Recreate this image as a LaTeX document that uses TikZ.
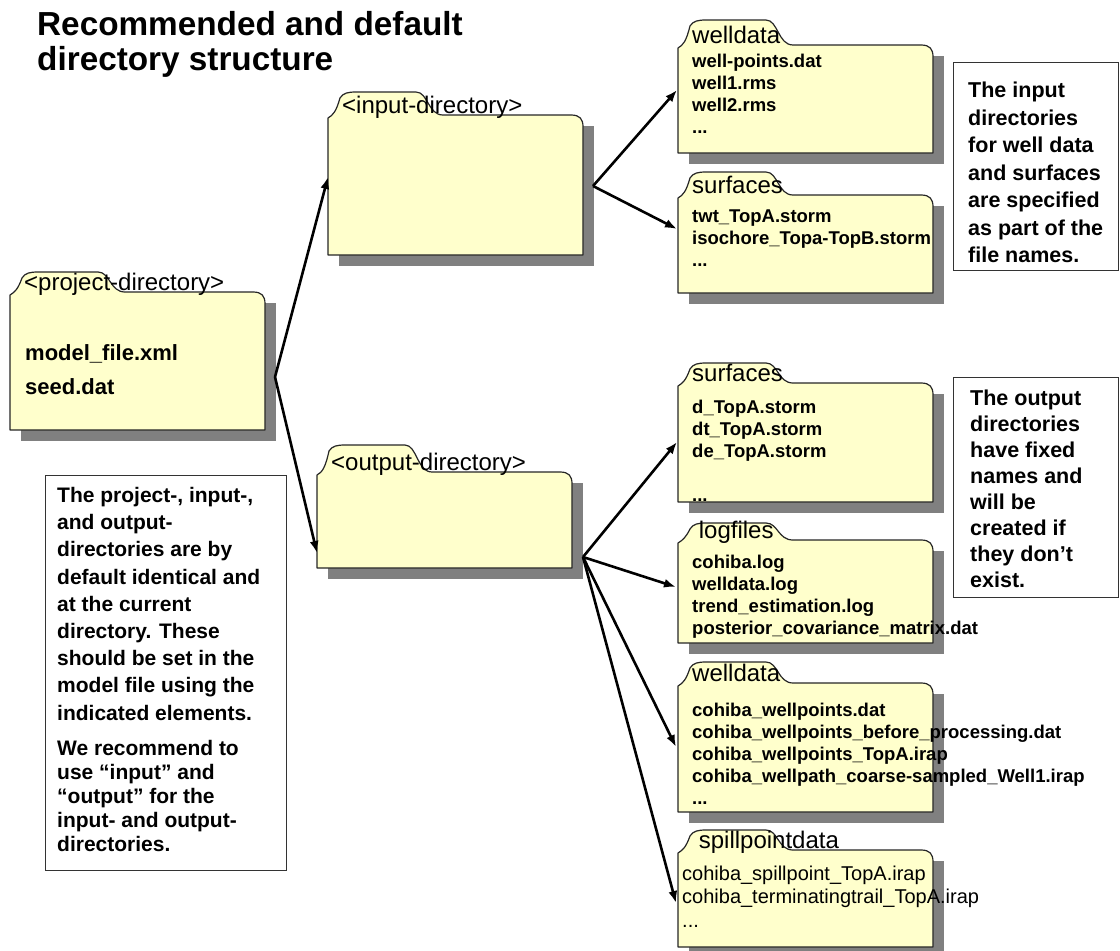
\documentclass[tikz,border=0pt]{standalone}
\usepackage{fontspec}
\setmainfont{Liberation Sans}
\usetikzlibrary{arrows.meta,positioning}

\definecolor{folderfill}{RGB}{255,255,204}
\definecolor{foldershade}{RGB}{128,128,128}

\tikzset{
  folderbody/.style={draw=black!85,line width=1.2pt,fill=folderfill,line join=round},
  foldershadow/.style={fill=foldershade},
  folderlabel/.style={font=\fontsize{24}{28}\selectfont,inner sep=0pt,anchor=base west},
  files/.style={font=\bfseries\fontsize{18.5}{22}\selectfont,align=left,inner sep=0pt,anchor=north west},
  notebox/.style={draw=black!80,line width=1pt,fill=white,inner sep=0pt,anchor=north west},
  notetext/.style={align=left,inner sep=0pt,anchor=north west},
  arr/.style={line width=2.6pt,-{Latex[length=12pt,width=9pt]}},
}

% folder: name, left x, tab top, body top, bottom, label
\newcommand{\folder}[6]{%
  \fill[foldershadow] (#2+11,#4+11) rectangle (#2+266,#5+11);
  \draw[folderbody] (#2,#5) -- (#2,#4+3)
    .. controls (#2+5,#4) and (#2+8,#4-3) .. (#2+12,#3+6)
    .. controls (#2+15,#3+1) and (#2+20,#3) .. (#2+28,#3)
    -- (#2+88,#3)
    .. controls (#2+100,#3) and (#2+100,#4) .. (#2+115,#4)
    -- (#2+243,#4)
    .. controls (#2+252,#4) and (#2+255,#4+4) .. (#2+255,#4+12)
    -- (#2+255,#5) -- cycle;
  \node[folderlabel] (#1-label) at (#2+14,#4-2) {#6};
}

\begin{document}
\begin{tikzpicture}[x=1pt,y=-1pt]
  \useasboundingbox (0,0) rectangle (1120,951);

  \node[notetext,font=\bfseries\fontsize{33.3}{34}\selectfont] (title) at (37,11)
    {\strut Recommended and default\\directory structure};

  % folders
  \folder{project}{10}{272}{292}{430}{<project-directory>}
  \node[notetext,font=\bfseries\fontsize{22}{34}\selectfont] (project-files) at (25,336)
    {\strut model\_file.xml\\seed.dat};

  \folder{input}{328}{92}{115}{255}{<input-directory>}
  \folder{output}{317}{445}{472}{568}{<output-directory>}

  \folder{wellin}{678}{20}{45}{153}{welldata}
  \node[files] (wellin-files) at (692,51.6)
    {\strut well-points.dat\\well1.rms\\well2.rms\\...};

  \folder{surfin}{678}{172}{195}{293}{surfaces}
  \node[files] (surfin-files) at (692,206.6)
    {\strut twt\_TopA.storm\\isochore\_Topa-TopB.storm\\...};

  \folder{surfout}{678}{363}{383}{502}{surfaces}
  \node[files] (surfout-files) at (692,398)
    {\strut d\_TopA.storm\\dt\_TopA.storm\\de\_TopA.storm\\\mbox{}\\...};

  \folder{logs}{678}{523}{540}{643}{\ logfiles}
  \node[files] (logs-files) at (692,552.6)
    {\strut cohiba.log\\welldata.log\\trend\_estimation.log\\posterior\_covariance\_matrix.dat};

  \folder{wellout}{678}{662}{683}{812}{welldata}
  \node[files] (wellout-files) at (692,700.6)
    {\strut cohiba\_wellpoints.dat\\cohiba\_wellpoints\_before\_processing.dat\\cohiba\_wellpoints\_TopA.irap\\cohiba\_wellpath\_coarse-sampled\_Well1.irap\\...};

  \folder{spill}{678}{830}{850}{947}{\ spillpointdata}
  \node[files,font=\fontsize{20}{23.5}\selectfont] (spill-files) at (682,863.5)
    {\strut cohiba\_spillpoint\_TopA.irap\\cohiba\_terminatingtrail\_TopA.irap\\...};

  % notes
  \node[notebox,minimum width=165pt,minimum height=208pt] (innote) at (953,62) {};
  \node[notetext,font=\bfseries\fontsize{21.5}{27.5}\selectfont] (innote-text) at (968,78.3)
    {\strut The input\\directories\\for well data\\and surfaces\\are specified\\as part of the\\file names.};

  \node[notebox,minimum width=165pt,minimum height=220pt] (outnote) at (953,377) {};
  \node[notetext,font=\bfseries\fontsize{21.5}{26}\selectfont] (outnote-text) at (970,387)
    {\strut The output\\directories\\have fixed\\names and\\will be\\created if\\they don’t\\exist.};

  \node[notebox,minimum width=241pt,minimum height=395pt] (dirnote) at (45,475) {};
  \node[notetext,font=\bfseries\fontsize{21}{27.2}\selectfont] (dirnote-text) at (57,483.3)
    {\strut The project-, input-,\\and output-\\directories are by\\default identical and\\at the current\\directory. These\\should be set in the\\model file using the\\indicated elements.\\[7.7pt]
     We recommend to\\[-3pt]use “input” and\\[-3pt]“output” for the\\[-3pt]input- and output-\\[-3pt]directories.};

  % connectors
  \coordinate (project-out) at (275,377);
  \coordinate (input-in) at (328,177);
  \coordinate (output-in) at (317,553);
  \coordinate (input-out) at (593,186);
  \coordinate (output-out) at (583,557);
  \coordinate (wellin-in) at (677,90);
  \coordinate (surfin-in) at (677,229);
  \coordinate (surfout-in) at (677,442);
  \coordinate (logs-in) at (676,587);
  \coordinate (wellout-in) at (676,747);
  \coordinate (spill-in) at (676,903);

  \draw[arr] (project-out) -- (input-in);
  \draw[arr] (project-out) -- (output-in);
  \draw[arr] (input-out) -- (wellin-in);
  \draw[arr] (input-out) -- (surfin-in);
  \draw[arr] (output-out) -- (surfout-in);
  \draw[arr] (output-out) -- (logs-in);
  \draw[arr] (output-out) -- (wellout-in);
  \draw[arr] (output-out) -- (spill-in);
\end{tikzpicture}
\end{document}
